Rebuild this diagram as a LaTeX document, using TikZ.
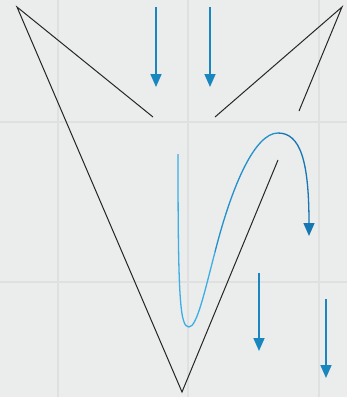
\documentclass[tikz,border=0pt]{standalone}
\usetikzlibrary{arrows.meta}
\definecolor{bg}{HTML}{EBECEC}
\definecolor{gridc}{HTML}{DFE0E0}
\definecolor{arrc}{HTML}{1A86C0}
\definecolor{lightb}{HTML}{3DAEE4}
\definecolor{midb}{HTML}{2290CA}
\definecolor{darkb}{HTML}{1677B3}
\tikzset{
  gridline/.style={gridc, line width=2pt},
  blackline/.style={black!85, line width=1pt},
  bluearrow/.style={arrc, line width=1.6pt, -{Triangle[length=13pt,width=11pt]}},
  curveline/.style={line width=1.3pt},
}
\begin{document}
\begin{tikzpicture}[x=1pt,y=-1pt]
\fill[bg] (0,0) rectangle (347,397);
\useasboundingbox (0,0) rectangle (347,397);
% grid
\foreach \gx in {58,188,319} \draw[gridline] (\gx,0) -- (\gx,397);
\foreach \gy in {122,282} \draw[gridline] (0,\gy) -- (347,\gy);
% coordinates
\coordinate (tl) at (17,7);
\coordinate (tr) at (342,7);
\coordinate (bot) at (182,392);
\coordinate (le) at (153,117);
\coordinate (re) at (215,117);
\coordinate (rs) at (299,111);
\coordinate (vr) at (278,160);
% black lines
\draw[blackline] (le) -- (tl) -- (bot) -- (vr);
\draw[blackline] (re) -- (tr) -- (rs);
% straight arrows
\coordinate (a1s) at (156,7);   \coordinate (a1e) at (156,87);
\coordinate (a2s) at (210,7);   \coordinate (a2e) at (210,87);
\coordinate (a3s) at (259,273); \coordinate (a3e) at (259,351);
\coordinate (a4s) at (326,299); \coordinate (a4e) at (326,378);
\draw[bluearrow] (a1s) -- (a1e);
\draw[bluearrow] (a2s) -- (a2e);
\draw[bluearrow] (a3s) -- (a3e);
\draw[bluearrow] (a4s) -- (a4e);
% curve
\coordinate (cs) at (178,154);
\coordinate (cmin) at (189,327);
\coordinate (cmid) at (215,252);
\coordinate (ctop) at (278,133);
\coordinate (ce) at (309,236);
\draw[curveline, lightb] (cs) .. controls (178,300) and (180,327) .. (cmin)
  .. controls (197,327) and (205,290) .. (cmid);
\draw[curveline, midb] (cmid) .. controls (232,185) and (255,133) .. (ctop);
\draw[curveline, darkb, -{Triangle[length=13pt,width=11pt]}] (ctop) .. controls (300,133) and (309,160) .. (ce);
\end{tikzpicture}
\end{document}
